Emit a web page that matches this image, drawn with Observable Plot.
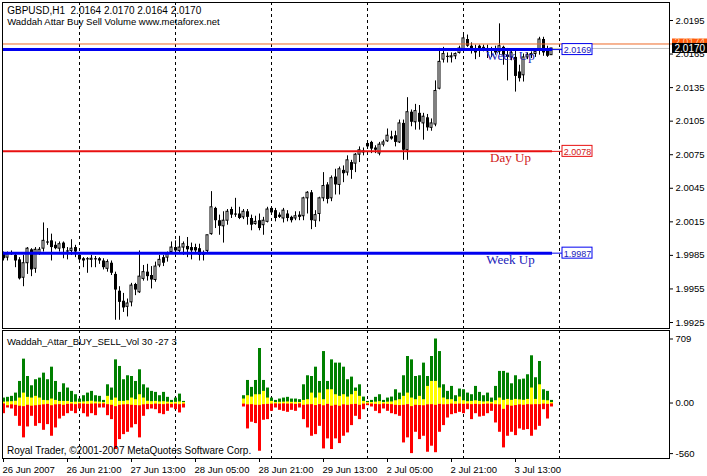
<!DOCTYPE html>
<html><head><meta charset="utf-8">
<script src="https://cdn.jsdelivr.net/npm/d3@7"></script>
<script src="https://cdn.jsdelivr.net/npm/@observablehq/plot@0.6"></script>
<style>
html,body{margin:0;padding:0;background:#fff;}
#wrap{position:relative;width:707px;height:476px;overflow:hidden;background:#fff;}
#wrap svg{position:absolute;left:0;overflow:visible;}
svg text{white-space:pre;}
</style></head><body><div id="wrap"></div>
<script>
// ---- price bars (H1), index 0 = 26 Jun 2007 05:00 ----
const open = [
1.9986,1.9983,1.9986,1.9985,1.9981,1.9965,1.9978,1.9990,1.9973,1.9987,
1.9991,1.9997,1.9998,1.9994,1.9991,1.9996,1.9989,1.9989,1.9992,1.9985,
1.9982,1.9982,1.9981,1.9982,1.9982,1.9980,1.9973,1.9978,1.9968,1.9953,
1.9944,1.9939,1.9943,1.9959,1.9952,1.9964,1.9970,1.9967,1.9963,1.9976,
1.9983,1.9983,1.9988,1.9992,1.9989,1.9992,1.9993,1.9992,1.9992,1.9991,
1.9986,1.9989,2.0004,2.0027,2.0016,2.0011,2.0016,2.0026,2.0022,2.0022,
2.0019,2.0024,2.0018,2.0013,2.0016,2.0012,2.0015,2.0027,2.0025,2.0021,
2.0018,2.0022,2.0019,2.0018,2.0021,2.0020,2.0036,2.0041,2.0016,2.0022,
2.0036,2.0048,2.0036,2.0055,2.0048,2.0061,2.0059,2.0068,2.0067,2.0075,
2.0077,2.0085,2.0086,2.0081,2.0076,2.0084,2.0087,2.0091,2.0092,2.0086,
2.0103,2.0079,2.0113,2.0104,2.0112,2.0103,2.0108,2.0099,2.0102,2.0134,
2.0160,2.0163,2.0162,2.0163,2.0166,2.0169,2.0178,2.0172,2.0170,2.0172,
2.0171,2.0170,2.0168,2.0169,2.0167,2.0171,2.0164,2.0162,2.0162,2.0149,
2.0146,2.0162,2.0164,2.0165,2.0168,2.0178,2.0169,2.0164];
const high = [
1.9988,1.9988,1.9989,1.9986,1.9983,1.9985,1.9992,1.9991,1.9992,1.9992,
2.0014,2.0009,2.0004,1.9997,1.9997,1.9997,1.9992,1.9999,1.9994,1.9986,
1.9983,1.9983,1.9985,1.9984,1.9983,1.9982,1.9981,1.9980,1.9970,1.9957,
1.9951,1.9946,1.9960,1.9960,1.9989,1.9976,1.9977,1.9975,1.9979,1.9985,
1.9985,1.9988,1.9997,1.9998,2.0002,1.9997,2.0001,1.9996,1.9995,1.9995,
1.9989,2.0003,2.0042,2.0028,2.0021,2.0024,2.0026,2.0028,2.0036,2.0028,
2.0026,2.0026,2.0021,2.0020,2.0022,2.0019,2.0028,2.0028,2.0027,2.0023,
2.0027,2.0025,2.0020,2.0024,2.0024,2.0037,2.0042,2.0043,2.0025,2.0037,
2.0059,2.0050,2.0056,2.0062,2.0064,2.0065,2.0074,2.0070,2.0076,2.0082,
2.0081,2.0086,2.0087,2.0083,2.0086,2.0088,2.0098,2.0096,2.0096,2.0106,
2.0106,2.0126,2.0115,2.0120,2.0119,2.0112,2.0111,2.0107,2.0141,2.0170,
2.0171,2.0166,2.0166,2.0166,2.0172,2.0183,2.0182,2.0175,2.0173,2.0173,
2.0173,2.0173,2.0171,2.0172,2.0192,2.0172,2.0170,2.0168,2.0168,2.0155,
2.0165,2.0166,2.0167,2.0168,2.0180,2.0180,2.0172,2.0170];
const low = [
1.9980,1.9980,1.9985,1.9974,1.9963,1.9957,1.9968,1.9966,1.9969,1.9985,
1.9988,1.9994,1.9980,1.9990,1.9988,1.9982,1.9981,1.9985,1.9983,1.9979,
1.9974,1.9969,1.9974,1.9974,1.9977,1.9972,1.9970,1.9967,1.9927,1.9927,
1.9934,1.9930,1.9939,1.9949,1.9951,1.9962,1.9962,1.9955,1.9961,1.9974,
1.9975,1.9979,1.9987,1.9986,1.9986,1.9985,1.9983,1.9981,1.9986,1.9980,
1.9980,1.9986,2.0003,2.0009,2.0003,1.9996,2.0012,2.0018,2.0019,2.0017,
2.0017,2.0012,2.0007,2.0012,2.0007,2.0003,2.0014,2.0021,2.0015,2.0018,
2.0014,2.0015,2.0014,2.0016,2.0016,2.0016,2.0022,2.0008,2.0010,2.0015,
2.0033,2.0031,2.0033,2.0039,2.0039,2.0050,2.0056,2.0053,2.0059,2.0068,
2.0074,2.0080,2.0076,2.0076,2.0074,2.0082,2.0086,2.0088,2.0082,2.0085,
2.0070,2.0070,2.0100,2.0097,2.0097,2.0088,2.0096,2.0096,2.0100,2.0133,
2.0157,2.0157,2.0157,2.0160,2.0165,2.0168,2.0171,2.0165,2.0160,2.0162,
2.0167,2.0161,2.0162,2.0164,2.0164,2.0155,2.0141,2.0159,2.0131,2.0140,
2.0140,2.0160,2.0161,2.0162,2.0164,2.0163,2.0162,2.0164];
const close = [
1.9982,1.9986,1.9987,1.9980,1.9964,1.9978,1.9991,1.9972,1.9990,1.9990,
1.9998,1.9996,1.9992,1.9991,1.9995,1.9991,1.9988,1.9991,1.9988,1.9981,
1.9980,1.9981,1.9982,1.9981,1.9980,1.9974,1.9979,1.9969,1.9954,1.9943,
1.9938,1.9942,1.9958,1.9954,1.9966,1.9970,1.9966,1.9963,1.9975,1.9981,
1.9978,1.9986,1.9992,1.9989,1.9992,1.9995,1.9990,1.9989,1.9989,1.9985,
1.9985,2.0003,2.0028,2.0016,2.0011,2.0016,2.0024,2.0021,2.0021,2.0018,
2.0024,2.0019,2.0012,2.0015,2.0009,2.0016,2.0026,2.0023,2.0018,2.0019,
2.0025,2.0018,2.0016,2.0020,2.0019,2.0036,2.0041,2.0016,2.0021,2.0036,
2.0047,2.0035,2.0054,2.0048,2.0062,2.0058,2.0070,2.0061,2.0075,2.0079,
2.0078,2.0082,2.0080,2.0079,2.0084,2.0086,2.0092,2.0089,2.0086,2.0103,
2.0079,2.0113,2.0104,2.0114,2.0104,2.0109,2.0099,2.0103,2.0132,2.0158,
2.0165,2.0162,2.0163,2.0165,2.0170,2.0179,2.0172,2.0168,2.0166,2.0169,
2.0170,2.0167,2.0169,2.0166,2.0172,2.0164,2.0162,2.0166,2.0145,2.0143,
2.0162,2.0164,2.0165,2.0167,2.0178,2.0166,2.0163,2.0170];

// ---- Waddah Attar Buy/Sell volume ----
const buyVolume = [
55,63,74,110,239,486,294,191,258,276,
331,258,397,239,118,213,166,129,92,44,
81,110,129,81,74,29,202,166,478,405,
258,302,294,239,368,202,166,129,118,81,
118,63,29,55,99,18,null,null,null,null,
null,null,null,null,null,null,null,null,null,null,
81,250,173,250,604,250,166,55,29,44,
55,63,44,44,37,202,302,294,397,239,
570,239,478,442,442,397,258,287,166,202,
66,18,29,63,92,29,55,66,147,110,
302,515,478,294,302,442,294,515,709,570,
202,129,184,81,155,147,110,92,184,118,
81,110,55,184,350,350,331,213,302,258,
265,313,523,280,460,147,129,29];
const sellVolume = [
-118,-55,-66,-147,-258,-386,-265,-147,-258,-228,
-302,-239,-368,-276,-177,-147,-118,-92,-118,-66,
-118,-155,-118,-140,-55,-55,-140,-184,-515,-405,
-350,-324,-276,-239,-386,-147,-74,-66,-74,-118,
-129,-92,-55,-74,-110,-55,null,null,null,null,
null,null,null,null,null,null,null,null,null,null,
-44,-287,-213,-228,-534,-191,-184,-92,-55,-81,
-92,-103,-81,-92,-55,-184,-276,-368,-350,-258,
-508,-397,-515,-397,-449,-368,-331,-250,-147,-184,
-74,-29,-44,-92,-118,-66,-92,-118,-129,-147,
-442,-386,-560,-324,-405,-368,-545,-478,-550,-324,
-250,-166,-129,-118,-103,-118,-74,-184,-118,-155,
-147,-118,-92,-221,-324,-497,-368,-324,-361,-287,
-302,-294,-368,-300,-258,-74,-177,-44];
const yellowUp = [
10,12,15,20,55,110,63,55,74,55,
29,26,44,29,18,18,18,7,10,8,
12,15,20,12,10,5,74,30,55,18,
18,25,55,37,92,55,20,15,18,12,
15,10,5,8,12,5,null,null,null,null,
null,null,null,null,null,null,null,null,null,null,
44,81,66,92,92,129,55,18,5,8,
10,12,8,8,6,29,37,110,55,110,
37,147,147,92,74,92,66,92,129,74,
18,4,6,10,15,6,10,12,25,37,
74,110,55,37,74,37,184,239,239,166,
55,37,37,15,66,25,15,18,25,18,
12,15,8,25,55,30,40,30,40,35,
30,40,166,40,202,30,25,5];
const yellowDown = [
-10,-30,-20,-25,-35,-40,-25,-35,-30,-25,
-20,-15,-30,-20,-18,-25,-15,-12,-18,-10,
-12,-15,-12,-10,-12,-10,-18,-25,-40,-25,
-20,-18,-25,-28,-30,-20,-15,-18,-12,-15,
-18,-12,-15,-12,-18,-12,null,null,null,null,
null,null,null,null,null,null,null,null,null,null,
-12,-20,-18,-25,-25,-18,-15,-12,-10,-12,
-10,-12,-10,-15,-10,-25,-20,-18,-28,-18,
-30,-15,-35,-25,-35,-20,-25,-18,-15,-25,
-12,-10,-12,-15,-18,-12,-15,-18,-25,-28,
-25,-18,-40,-25,-28,-30,-20,-18,-25,-15,
-20,-18,-12,-15,-12,-15,-12,-18,-15,-18,
-15,-12,-12,-18,-20,-70,-25,-35,-28,-20,
-25,-18,-20,-18,-18,-12,-15,-10];

// ---- levels, prices, ticks, labels ----
const levelNames = ["Week Up", "Day Up", "Week Up"];
const levelValues = [2.0169, 2.0078, 1.9987];
const bidPrice = 2.0170;
const askPrice = 2.0174;
const priceTicks = [2.0195, 2.0165, 2.0135, 2.0105, 2.0075, 2.0045, 2.0015, 1.9985, 1.9955, 1.9925];
const daySeparators = [19, 43, 67, 91, 115, 139];
const timeTickBars = [0, 16, 32, 48, 64, 80, 96, 112, 128];
const timeTickLabels = ["26 Jun 2007", "26 Jun 21:00", "27 Jun 13:00", "28 Jun 05:00", "28 Jun 21:00",
  "29 Jun 13:00", "2 Jul 05:00", "2 Jul 21:00", "3 Jul 13:00"];
const indTickValues = [709, 0, -560];
const indTickLabels = ["709", "0.00", "-560"];
const titleLine1 = "GBPUSD,H1  2.0164 2.0170 2.0164 2.0170";
const titleLine2 = "Waddah Attar Buy Sell Volume www.metaforex.net";
const indicatorName = "Waddah_Attar_BUY_SELL_Vol 30 -27 3";
const copyright = "Royal Trader, \u00A92001-2007 MetaQuotes Software Corp.";

// ---- styling / layout ----
const FONT = "'Liberation Sans', Arial, sans-serif";
const SERIF = "'Liberation Serif', 'Times New Roman', serif";
const FS = "9.5px";
const DASH = "3,3";
const levelStyle = [
  {line: "#0000f0", text: "#2020b8", width: 3},
  {line: "#e81010", text: "#d01818", width: 2},
  {line: "#0000f0", text: "#2020b8", width: 3}
];
const xScale = {domain: [0, 137], range: [3, 551]};

const candles = open.map((o, i) => ({i, o, h: high[i], l: low[i], c: close[i]}));
const bull = candles.filter(d => d.c >= d.o);
const bear = candles.filter(d => d.c < d.o);
const vols = buyVolume.map((b, i) => ({i, b, s: sellVolume[i], yu: yellowUp[i], yd: yellowDown[i]}));
const levels = levelValues.map((value, k) => ({k, value, name: levelNames[k]}));

const levelMarks = levels.flatMap(d => {
  const st = levelStyle[d.k];
  return [
    Plot.ruleY([d], {y: "value", x1: -0.25, x2: 137.25, stroke: st.line, strokeWidth: st.width}),
    Plot.ruleY([d], {y: "value", x1: 137.25, x2: 139.75, stroke: st.line}),
    Plot.rect([d], {x1: 139.75, x2: 147.25, y1: "value", y2: "value", insetTop: -5.5, insetBottom: -5.5, fill: "white", stroke: st.line}),
    Plot.text([d], {x: 140.05, y: "value", text: v => v.value.toFixed(4), textAnchor: "start", fill: st.text, dy: 0.5, fontSize: 9}),
    Plot.text([d], {x: 126.75, y: "value", text: "name", lineAnchor: "bottom", dy: 10.5, fill: st.text, fontFamily: SERIF, fontSize: 13})
  ];
});

const main = Plot.plot({
  width: 707, height: 329,
  marginLeft: 2, marginRight: 38, marginTop: 2, marginBottom: 1,
  style: {fontFamily: FONT, fontSize: FS, background: "white", color: "black"},
  x: {...xScale, axis: null},
  y: {domain: [1.9925, 2.0195], range: [322, 20], axis: "right", ticks: priceTicks,
      tickFormat: d => d.toFixed(4), tickSize: 3, tickPadding: 3, label: null},
  marks: [
    Plot.ruleY([bidPrice], {x1: -0.25, x2: 166.5, stroke: "#c0c0c0"}),
    Plot.ruleX(daySeparators, {stroke: "black", strokeDasharray: DASH}),
    Plot.ruleX(candles, {x: "i", y1: "l", y2: "h", stroke: "black"}),
    Plot.ruleX(bear, {x: "i", y1: "o", y2: "c", stroke: "black", strokeWidth: 3}),
    Plot.rect(bull, {x1: d => d.i - 0.25, x2: d => d.i + 0.25, y1: "o", y2: "c", fill: "white", stroke: "black"}),
    Plot.ruleY([askPrice], {x1: -0.25, x2: 176, stroke: "#ee6a28"}),
    ...levelMarks,
    Plot.rect([askPrice], {x1: 167.25, x2: 176, y1: d => d, y2: d => d, insetTop: -5, insetBottom: -4, fill: "#ff5a0a"}),
    Plot.text([askPrice], {x: 167.75, y: d => d, text: d => d.toFixed(4), textAnchor: "start", fill: "#ffc8a0", dy: -1.5, fontSize: 10}),
    Plot.rect([bidPrice], {x1: 167.25, x2: 176, y1: d => d, y2: d => d, insetTop: -5, insetBottom: -5, fill: "black"}),
    Plot.text([bidPrice], {x: 167.75, y: d => d, text: d => d.toFixed(4), textAnchor: "start", fill: "white", dy: 0.5, fontSize: 10}),
    Plot.text([titleLine1], {frameAnchor: "top-left", dx: 4.7, dy: 11.3, lineAnchor: "bottom", textAnchor: "start", fill: "black", fontSize: 10}),
    Plot.text([titleLine2], {frameAnchor: "top-left", dx: 4.7, dy: 22.3, lineAnchor: "bottom", textAnchor: "start", fill: "black"}),
    Plot.frame({stroke: "black"})
  ]
});

const ind = Plot.plot({
  width: 707, height: 147,
  marginLeft: 2, marginRight: 38, marginTop: 1, marginBottom: 18,
  style: {fontFamily: FONT, fontSize: FS, background: "white", color: "black"},
  x: {...xScale, axis: "bottom", ticks: timeTickBars, tickFormat: () => "", tickSize: 4, label: null},
  y: {domain: [-560, 709], range: [124.1, 9.5], axis: "right", ticks: indTickValues,
      tickFormat: d => indTickLabels[indTickValues.indexOf(d)], tickSize: 3, tickPadding: 3, label: null},
  marks: [
    Plot.ruleX(daySeparators, {stroke: "black", strokeDasharray: DASH}),
    Plot.ruleX(vols, {x: "i", y1: 0, y2: "b", stroke: "#008000", strokeWidth: 3}),
    Plot.ruleX(vols, {x: "i", y1: 0, y2: "s", stroke: "#ff0000", strokeWidth: 3}),
    Plot.ruleX(vols, {x: "i", y1: "yd", y2: "yu", stroke: "#ffff00", strokeWidth: 3}),
    Plot.text(timeTickLabels, {x: (d, k) => timeTickBars[k], frameAnchor: "bottom", dx: -1, dy: 14.5,
      lineAnchor: "bottom", textAnchor: "start", fill: "black"}),
    Plot.text([indicatorName], {frameAnchor: "top-left", dx: 4.5, dy: 14.5, lineAnchor: "bottom", textAnchor: "start", fill: "black"}),
    Plot.text([copyright], {frameAnchor: "bottom-left", dx: 4.5, dy: -4.5, lineAnchor: "bottom", textAnchor: "start", fill: "black", fontSize: 10}),
    Plot.frame({stroke: "black"})
  ]
});

const wrap = document.getElementById("wrap");
main.style.top = "0px";
ind.style.top = "329px";
wrap.appendChild(main);
wrap.appendChild(ind);
</script></body></html>
